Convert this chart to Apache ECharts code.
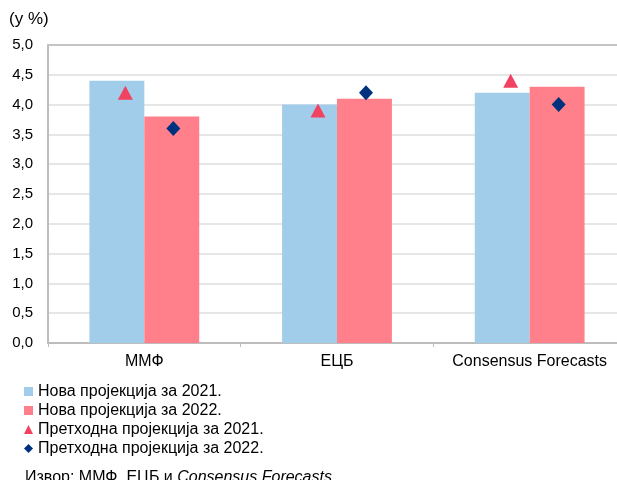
<!DOCTYPE html>
<html>
<head>
<meta charset="utf-8">
<script src="https://cdn.jsdelivr.net/npm/echarts@6/dist/echarts.min.js"></script>
<style>
  html, body { margin: 0; padding: 0; background: #ffffff; }
  #chart { width: 617px; height: 480px; }
</style>
</head>
<body>
<div id="chart"></div>
<script>
// Projected growth by institution (y %)
const categories = ['ММФ', 'ЕЦБ', 'Consensus Forecasts'];
const newProj2021 = [4.4, 4.0, 4.2];
const newProj2022 = [3.8, 4.1, 4.3];
const prevProj2021 = [4.2, 3.9, 4.4];
const prevProj2022 = [3.6, 4.2, 4.0];
const seriesNames = [
  'Нова пројекција за 2021.',
  'Нова пројекција за 2022.',
  'Претходна пројекција за 2021.',
  'Претходна пројекција за 2022.'
];
const yTicks = { min: 0, max: 5, interval: 0.5 };

const FONT = 'Arial, "Liberation Sans", sans-serif';
const chart = echarts.init(document.getElementById('chart'), null, { renderer: 'canvas' });

chart.setOption({
  animation: false,
  backgroundColor: '#ffffff',
  textStyle: { fontFamily: FONT, color: '#000' },
  grid: {
    left: 48, top: 45, width: 578, height: 298,
    containLabel: false, outerBoundsMode: 'none'
  },
  legend: {
    orient: 'vertical',
    left: 24,
    top: 382,
    itemWidth: 9,
    itemHeight: 9,
    itemGap: 0,
    padding: 0,
    selectedMode: false,
    textStyle: { fontFamily: FONT, fontSize: 16, color: '#000', lineHeight: 19 },
    data: [
      { name: seriesNames[0], icon: 'rect' },
      { name: seriesNames[1], icon: 'rect' },
      { name: seriesNames[2], icon: 'triangle' },
      { name: seriesNames[3], icon: 'diamond' }
    ]
  },
  xAxis: [
    {
      type: 'category',
      data: categories,
      axisLine: { show: true, lineStyle: { color: '#bdbdbd', width: 2 } },
      axisTick: { show: true, interval: 0, length: 4, lineStyle: { color: '#bdbdbd', width: 1 } },
      axisLabel: {
        fontFamily: FONT, fontSize: 16, color: '#000', margin: 11,
        interval: 0, hideOverlap: false
      },
      splitLine: { show: false }
    },
    {
      type: 'category',
      data: categories,
      position: 'top',
      axisLine: { show: true, lineStyle: { color: '#c4c4c4', width: 2 } },
      axisTick: { show: false },
      axisLabel: { show: false }
    }
  ],
  yAxis: {
    type: 'value',
    min: yTicks.min,
    max: yTicks.max,
    interval: yTicks.interval,
    axisLine: { show: true, lineStyle: { color: '#bdbdbd', width: 2 } },
    axisTick: { show: false },
    axisLabel: {
      fontFamily: FONT, fontSize: 15, color: '#000', margin: 15,
      formatter: v => v.toFixed(1).replace('.', ',')
    },
    splitLine: { show: true, lineStyle: { color: '#e6e6e6', width: 2 } }
  },
  graphic: [
    {
      type: 'text', left: 9, top: 11,
      style: { text: '(y %)', fontFamily: FONT, fontSize: 17, fill: '#000' }
    },
    {
      type: 'text', left: 25, top: 470,
      style: {
        text: '{n|Извор: ММФ, ЕЦБ и }{i|Consensus Forecasts}',
        rich: {
          n: { fontFamily: FONT, fontSize: 16, fill: '#000' },
          i: { fontFamily: FONT, fontSize: 16, fontStyle: 'italic', fill: '#000' }
        }
      }
    }
  ],
  series: [
    {
      name: seriesNames[0], type: 'bar', data: newProj2021,
      barGap: '0%', barCategoryGap: '43%',
      itemStyle: { color: '#a1cdea' }
    },
    {
      name: seriesNames[1], type: 'bar', data: newProj2022,
      barGap: '0%', barCategoryGap: '43%',
      itemStyle: { color: '#ff7f8b' }
    },
    {
      name: seriesNames[2], type: 'scatter', data: prevProj2021,
      symbol: 'triangle', symbolSize: [15, 14], symbolOffset: [-19, 0],
      itemStyle: { color: '#f24262', opacity: 1 }, z: 5
    },
    {
      name: seriesNames[3], type: 'scatter', data: prevProj2022,
      symbol: 'diamond', symbolSize: [14, 15], symbolOffset: [29, 0],
      itemStyle: { color: '#00317e', opacity: 1 }, z: 5
    }
  ]
});
</script>
</body>
</html>
